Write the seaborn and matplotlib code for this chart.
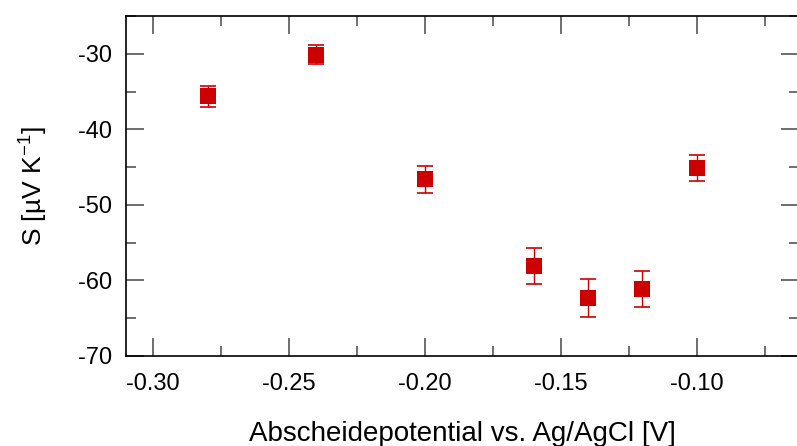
import matplotlib
matplotlib.use("Agg")
import matplotlib.pyplot as plt
import seaborn as sns
import pandas as pd
from matplotlib.ticker import MultipleLocator

potential = [-0.28, -0.24, -0.20, -0.16, -0.14, -0.12, -0.10]
seebeck = [-35.6, -30.1, -46.6, -58.1, -62.3, -61.1, -45.1]
error = [1.4, 1.2, 1.8, 2.35, 2.5, 2.4, 1.7]

df = pd.DataFrame({"x": potential, "y": seebeck, "err": error})

sns.set_style("ticks")
plt.rcParams['font.family'] = ['Liberation Sans', 'DejaVu Sans']
plt.rcParams['axes.unicode_minus'] = False
plt.rcParams['mathtext.fontset'] = 'custom'
plt.rcParams['mathtext.rm'] = 'Liberation Sans'
plt.rcParams['text.color'] = 'black'
plt.rcParams['axes.labelcolor'] = 'black'
plt.rcParams['xtick.labelcolor'] = 'black'
plt.rcParams['ytick.labelcolor'] = 'black'

fig = plt.figure(figsize=(7.97, 4.46), dpi=100)
ax = fig.add_axes([126/797, 1-356/446, 1-126/797 + 0.002, (356-16)/446])

red = "#cc0000"
ax.errorbar(df["x"], df["y"], yerr=df["err"], fmt="none", ecolor=red,
            elinewidth=1.0, capsize=6, capthick=1.2, zorder=2)
sns.scatterplot(data=df, x="x", y="y", marker="s", s=130, color=red,
                edgecolor=red, linewidth=0, ax=ax, zorder=3, legend=False)

ax.set_xlim(-0.31, -0.0625)
ax.set_ylim(-70, -25)
ax.xaxis.set_major_locator(MultipleLocator(0.05))
ax.xaxis.set_minor_locator(MultipleLocator(0.025))
ax.yaxis.set_major_locator(MultipleLocator(10))
ax.yaxis.set_minor_locator(MultipleLocator(5))
ax.xaxis.set_major_formatter(matplotlib.ticker.FuncFormatter(lambda v, p: f"{v:.2f}"))
ax.yaxis.set_major_formatter(matplotlib.ticker.FuncFormatter(lambda v, p: f"{v:.0f}"))
ax.tick_params(which="both", direction="in", top=True, right=True,
               color="#555555", labelsize=17, width=1.2, labelcolor="black")
ax.tick_params(which="major", length=13)
ax.tick_params(axis="x", which="major", pad=12)
ax.tick_params(axis="y", which="major", pad=10)
ax.tick_params(which="minor", length=7)
for s in ax.spines.values():
    s.set_linewidth(1.2)
    s.set_color("black")
    s.set_visible(True)

ax.set_xlabel("Abscheidepotential vs. Ag/AgCl [V]", fontsize=20, labelpad=19)
ax.set_ylabel("S [µV K$^{\\mathrm{-1}}$]", fontsize=19, labelpad=21)

fig.savefig("out.png", dpi=100)
